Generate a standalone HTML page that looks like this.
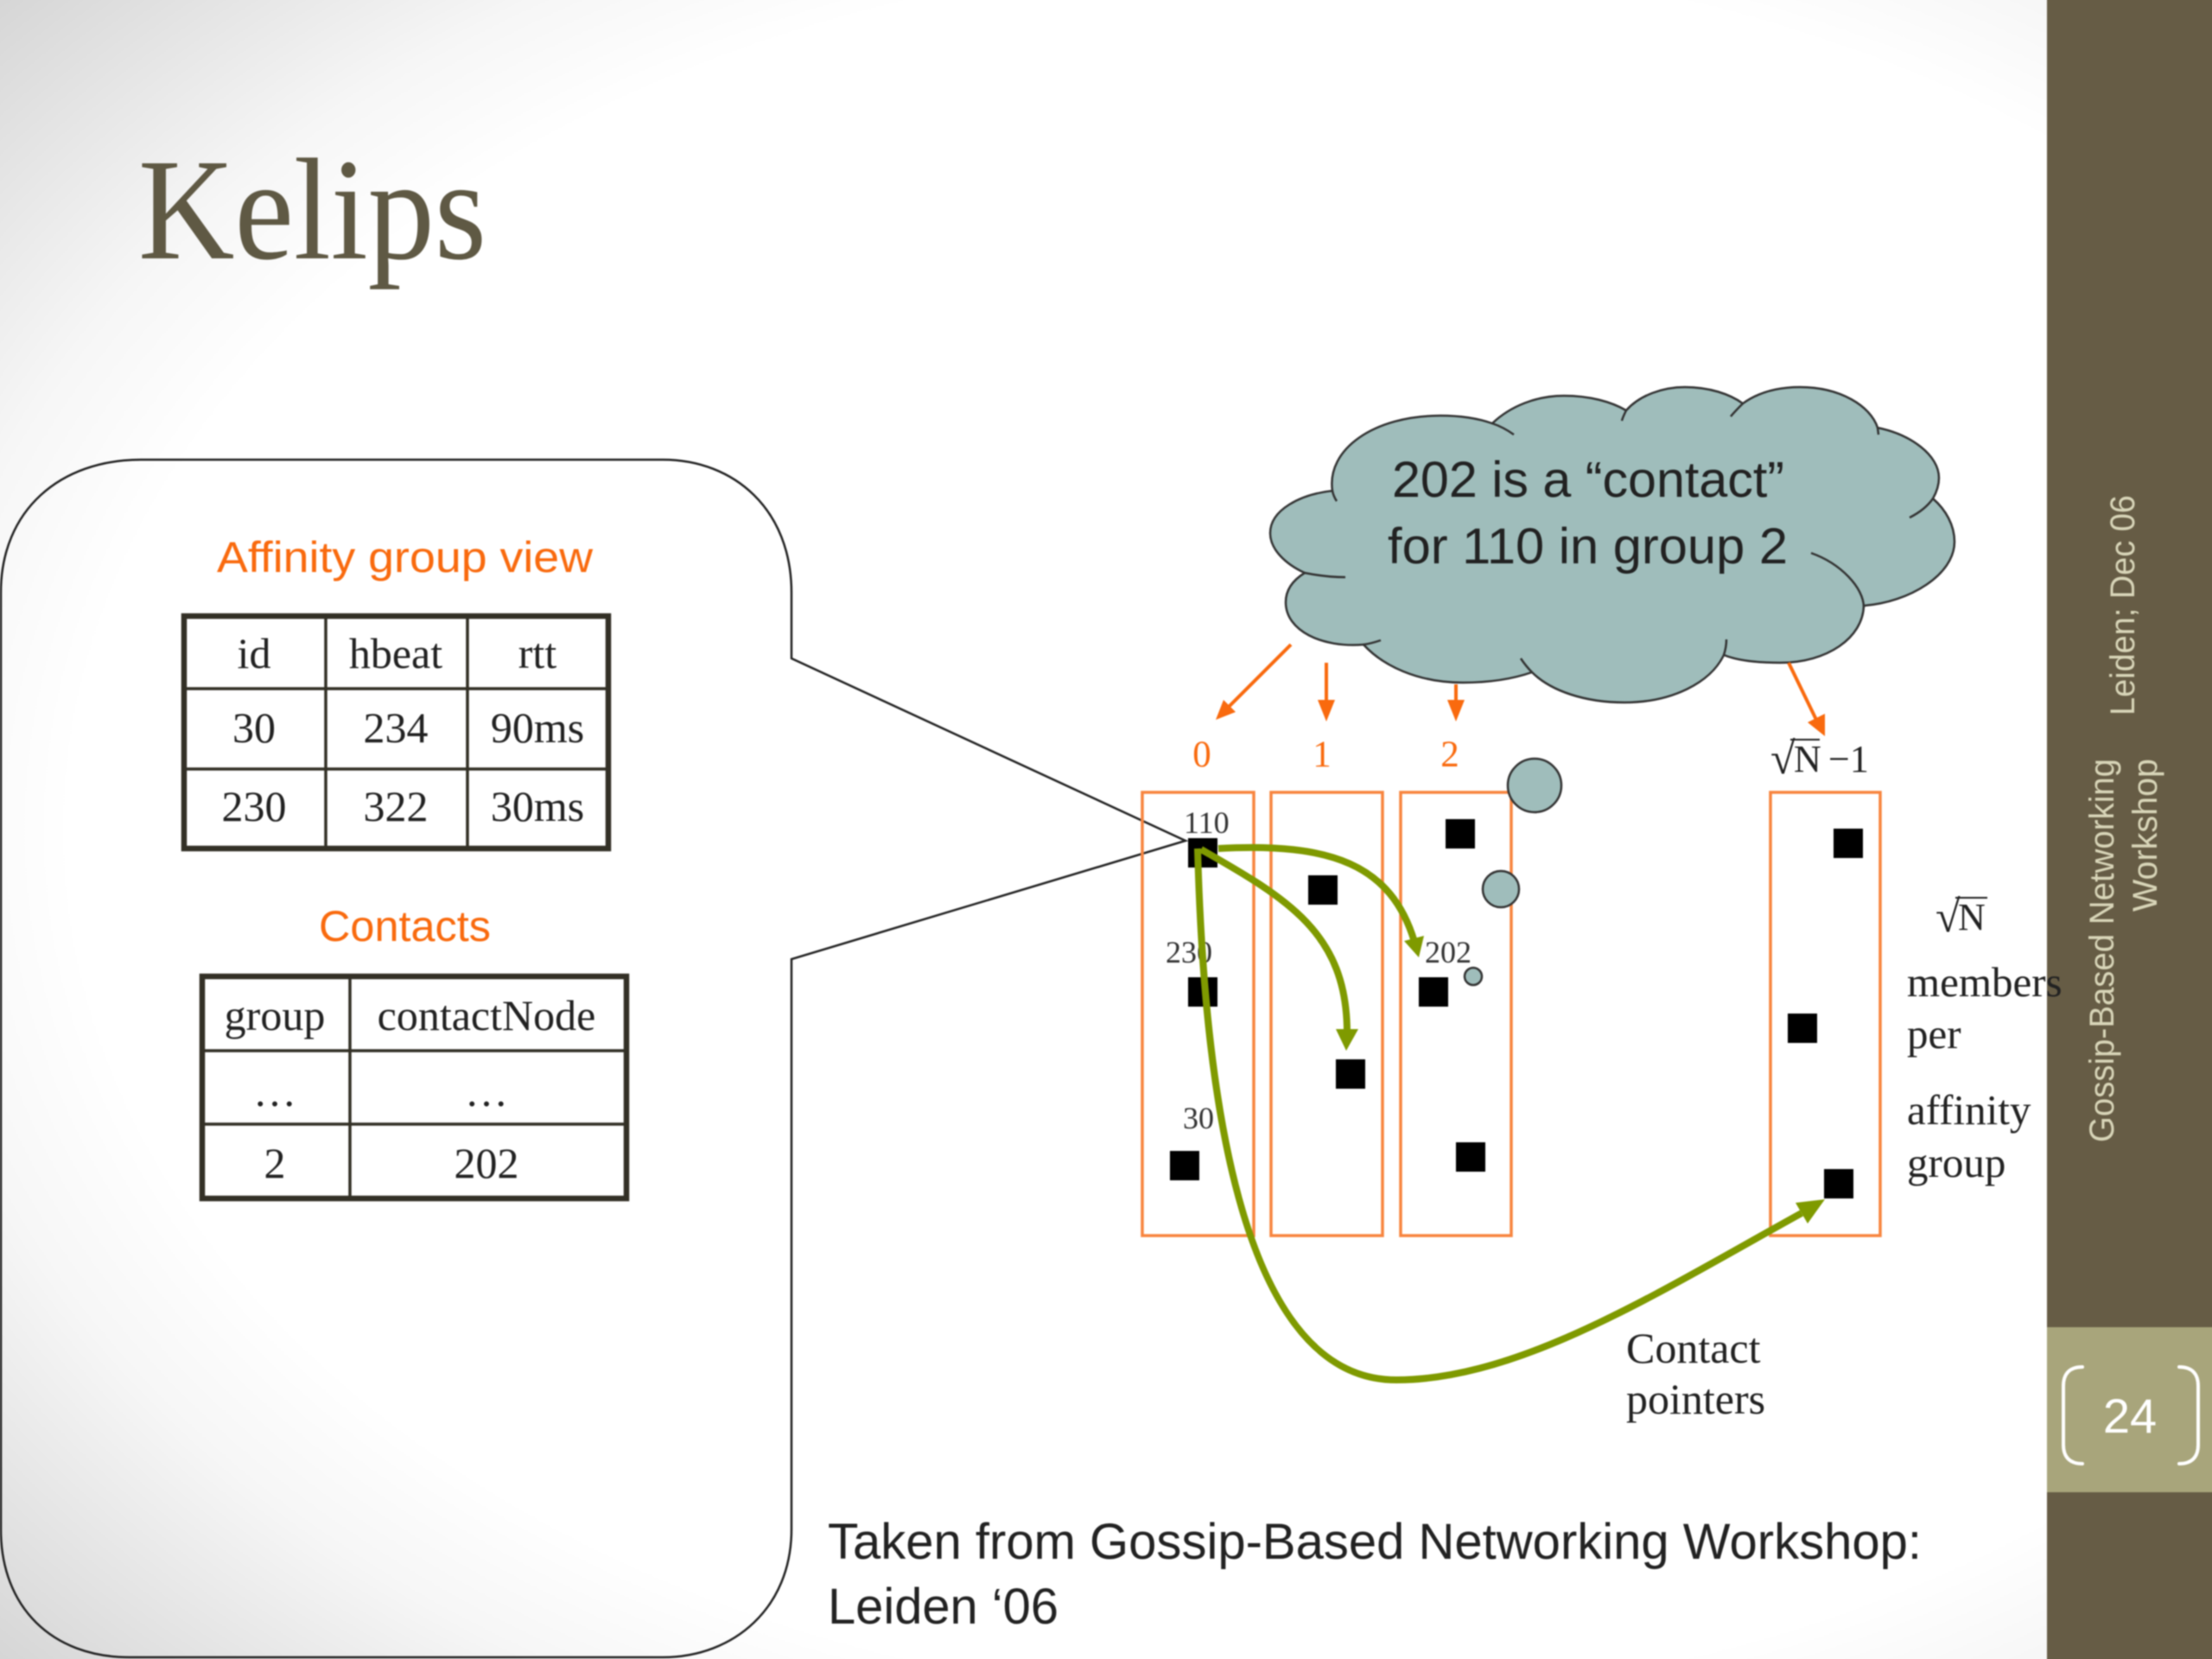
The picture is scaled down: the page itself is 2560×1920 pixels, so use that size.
<!DOCTYPE html>
<html>
<head>
<meta charset="utf-8">
<style>
html,body{margin:0;padding:0;width:2560px;height:1920px;overflow:hidden}
body{background:#fff;position:relative}
svg{display:block;position:absolute;left:-10px;top:-10px;filter:blur(.7px)}
.s{font-family:"Liberation Sans",sans-serif}
.t{font-family:"Liberation Serif",serif;fill:#222}
</style>
</head>
<body>
<svg width="2580" height="1940" viewBox="-10 -10 2580 1940" xmlns="http://www.w3.org/2000/svg">
<defs>
<radialGradient id="bg" gradientUnits="userSpaceOnUse" cx="1500" cy="960" r="2014" gradientTransform="translate(1500 960) scale(1 .71) translate(-1500 -960)">
<stop offset="0" stop-color="#fff"/><stop offset=".70" stop-color="#fff"/><stop offset=".80" stop-color="#f6f6f6"/><stop offset="1" stop-color="#d6d6d6"/>
</radialGradient>
</defs>
<rect x="-10" y="-10" width="2580" height="1940" fill="url(#bg)"/>
<rect x="2369" y="-10" width="201" height="1940" fill="#665c45"/>
<rect x="2369" y="1536" width="201" height="191" fill="#a8a57b"/>

<text class="t" x="160" y="299" font-size="168" textLength="403" lengthAdjust="spacingAndGlyphs" style="fill:#5f5944">Kelips</text>

<g class="s" fill="#d8d5b8" font-size="40">
<text transform="translate(2470 828) rotate(-90)" textLength="255" lengthAdjust="spacingAndGlyphs">Leiden; Dec 06</text>
<text transform="translate(2446 1322) rotate(-90)" textLength="444" lengthAdjust="spacingAndGlyphs">Gossip-Based Networking</text>
<text transform="translate(2496 1055) rotate(-90)" textLength="177" lengthAdjust="spacingAndGlyphs">Workshop</text>
</g>
<g fill="none" stroke="#fff" stroke-width="4" stroke-linecap="round">
<path d="M2410,1582 C2395,1582 2388,1590 2388,1604 V1672 C2388,1686 2395,1694 2410,1694"/>
<path d="M2522,1582 C2537,1582 2544,1590 2544,1604 V1672 C2544,1686 2537,1694 2522,1694"/>
</g>
<text class="s" x="2465" y="1658" font-size="56" fill="#fff" text-anchor="middle">24</text>

<path d="M916,762 L1372,973 L916,1110 V1770 C916,1860 850,1918 767,1918 H150 C60,1918 1,1860 1,1770 V686 C1,590 70,532 163,532 H767 C850,532 916,590 916,686 Z" fill="none" stroke="#222" stroke-width="2.5"/>

<g class="s" fill="#f96a0e" font-size="50">
<text x="251" y="662" textLength="435" lengthAdjust="spacingAndGlyphs">Affinity group view</text>
<text x="369" y="1089" textLength="199" lengthAdjust="spacingAndGlyphs">Contacts</text>
</g>

<g fill="none" stroke="#333026">
<rect x="213" y="713" width="491" height="269" stroke-width="6.5"/>
<path d="M377,712 V983 M541,712 V983 M212,797 H705 M212,890 H705" stroke-width="3.5"/>
<rect x="234" y="1130" width="491" height="257" stroke-width="6.5"/>
<path d="M405,1130 V1387 M234,1216 H726 M234,1301 H726" stroke-width="3.5"/>
</g>
<g class="t" font-size="50" text-anchor="middle">
<text x="294" y="773">id</text><text x="458" y="773">hbeat</text><text x="622" y="773">rtt</text>
<text x="294" y="859">30</text><text x="458" y="859">234</text><text x="622" y="859">90ms</text>
<text x="294" y="950">230</text><text x="458" y="950">322</text><text x="622" y="950">30ms</text>
<text x="318" y="1192">group</text><text x="563" y="1192">contactNode</text>
<text x="318" y="1280">…</text><text x="563" y="1280">…</text>
<text x="318" y="1363">2</text><text x="563" y="1363">202</text>
</g>

<path d="M1542,568 C1535,520 1590,481 1667,481 C1690,481 1710,484 1727,490 C1748,470 1778,458 1810,458 C1840,458 1865,465 1882,475 C1898,457 1925,448 1950,448 C1978,448 2002,456 2017,467 C2035,454 2058,448 2083,448 C2130,448 2165,470 2173,495 C2212,503 2244,527 2244,553 C2244,562 2241,570 2237,577 C2252,590 2262,608 2262,627 C2262,665 2210,697 2157,701 C2156,738 2115,767 2060,767 C2035,767 2012,765 1995,758 C1980,790 1935,813 1880,813 C1835,813 1795,800 1773,778 C1750,786 1722,790 1693,790 C1640,790 1600,770 1578,746 C1530,750 1488,730 1488,697 C1488,682 1497,671 1510,663 C1488,653 1470,636 1470,617 C1470,590 1505,572 1542,568 Z" fill="#9fbdbb" stroke="#333" stroke-width="2.5"/>
<path d="M1542,568 C1543,573 1545,577 1547,580 M1727,490 C1736,493 1745,498 1752,503 M1882,475 C1880,479 1878,483 1877,487 M2017,467 C2012,472 2007,477 2003,482 M2173,495 L2174,503 M2237,577 C2230,587 2220,594 2210,599 M2096,640 C2130,652 2157,680 2157,703 M1995,758 C1997,752 1998,746 1998,740 M1773,778 C1768,773 1764,768 1760,762 M1578,746 C1586,745 1592,743 1598,741 M1510,663 C1525,666 1540,668 1557,668" fill="none" stroke="#333" stroke-width="2.5"/>
<g class="s" fill="#222" font-size="58">
<text x="1611" y="575" textLength="454" lengthAdjust="spacingAndGlyphs">202 is a “contact”</text>
<text x="1606" y="652" textLength="463" lengthAdjust="spacingAndGlyphs">for 110 in group 2</text>
</g>

<g stroke="#f96a0e" stroke-width="4" fill="none">
<path d="M1494,746 L1415,825 M1535,767 L1535,815 M1685,792 L1685,815 M2070,767 L2103,835"/>
</g>
<g fill="#f96a0e">
<polygon points="1407,833 1416,810 1430,824"/>
<polygon points="1535,835 1525,810 1545,810"/>
<polygon points="1685,835 1675,810 1695,810"/>
<polygon points="2112,852 2092,836 2112,826"/>
</g>

<g class="t" font-size="43" text-anchor="middle">
<text x="1391" y="887" style="fill:#f96a0e">0</text>
<text x="1530" y="887" style="fill:#f96a0e">1</text>
<text x="1678" y="887" style="fill:#f96a0e">2</text>
</g>

<g fill="none" stroke="#f8853f" stroke-width="3.5">
<rect x="1322" y="917" width="129" height="513"/>
<rect x="1471" y="917" width="129" height="513"/>
<rect x="1621" y="917" width="128" height="513"/>
<rect x="2049" y="917" width="127" height="513"/>
</g>

<g fill="#000">
<rect x="1375" y="970" width="34" height="34"/>
<rect x="1375" y="1131" width="34" height="34"/>
<rect x="1354" y="1332" width="34" height="34"/>
<rect x="1514" y="1013" width="34" height="34"/>
<rect x="1546" y="1226" width="34" height="34"/>
<rect x="1673" y="948" width="34" height="34"/>
<rect x="1642" y="1131" width="34" height="34"/>
<rect x="1685" y="1322" width="34" height="34"/>
<rect x="2122" y="959" width="34" height="34"/>
<rect x="2069" y="1173" width="34" height="34"/>
<rect x="2111" y="1353" width="34" height="34"/>
</g>

<g fill="#9fbdbb" stroke="#333" stroke-width="2.5">
<circle cx="1776" cy="909" r="31"/>
<circle cx="1737" cy="1029" r="21"/>
<circle cx="1705" cy="1130" r="10"/>
</g>

<g class="t" font-size="36">
<text x="1370" y="964" style="fill:#333">110</text>
<text x="1349" y="1114" style="fill:#333">230</text>
<text x="1369" y="1306" style="fill:#333">30</text>
<text x="1649" y="1114" style="fill:#333">202</text>
</g>

<g fill="none" stroke="#7f9a00" stroke-width="8">
<path d="M1410,982 C1540,975 1610,1000 1637,1090"/>
<path d="M1390,983 C1490,1040 1559,1080 1559,1195"/>
<path d="M1386,982 C1392,1200 1420,1597 1616,1597 C1760,1597 1920,1495 2085,1404"/>
</g>
<g fill="#7f9a00">
<polygon points="1642,1108 1625,1089 1648,1083"/>
<polygon points="1558,1216 1546,1191 1572,1191"/>
<polygon points="2112,1388 2078,1392 2092,1416"/>
</g>

<g class="t">
<text x="2049" y="895" font-size="52">√</text>
<text x="2076" y="893" font-size="44">N</text>
<text x="2116" y="893" font-size="44">−1</text>
<text x="2240" y="1078" font-size="52">√</text>
<text x="2266" y="1076" font-size="44">N</text>
<text x="2207" y="1153" font-size="49">members</text>
<text x="2207" y="1213" font-size="49">per</text>
<text x="2207" y="1301" font-size="49">affinity</text>
<text x="2207" y="1362" font-size="49">group</text>
<text x="1882" y="1577" font-size="50">Contact</text>
<text x="1882" y="1636" font-size="50">pointers</text>
</g>
<path d="M2072,856 H2106 M2263,1039 H2300" stroke="#222" stroke-width="2" fill="none"/>

<g class="s" fill="#222" font-size="58">
<text x="958" y="1804" textLength="1266" lengthAdjust="spacingAndGlyphs">Taken from Gossip-Based Networking Workshop:</text>
<text x="958" y="1879" textLength="267" lengthAdjust="spacingAndGlyphs">Leiden ‘06</text>
</g>
</svg>
</body>
</html>
